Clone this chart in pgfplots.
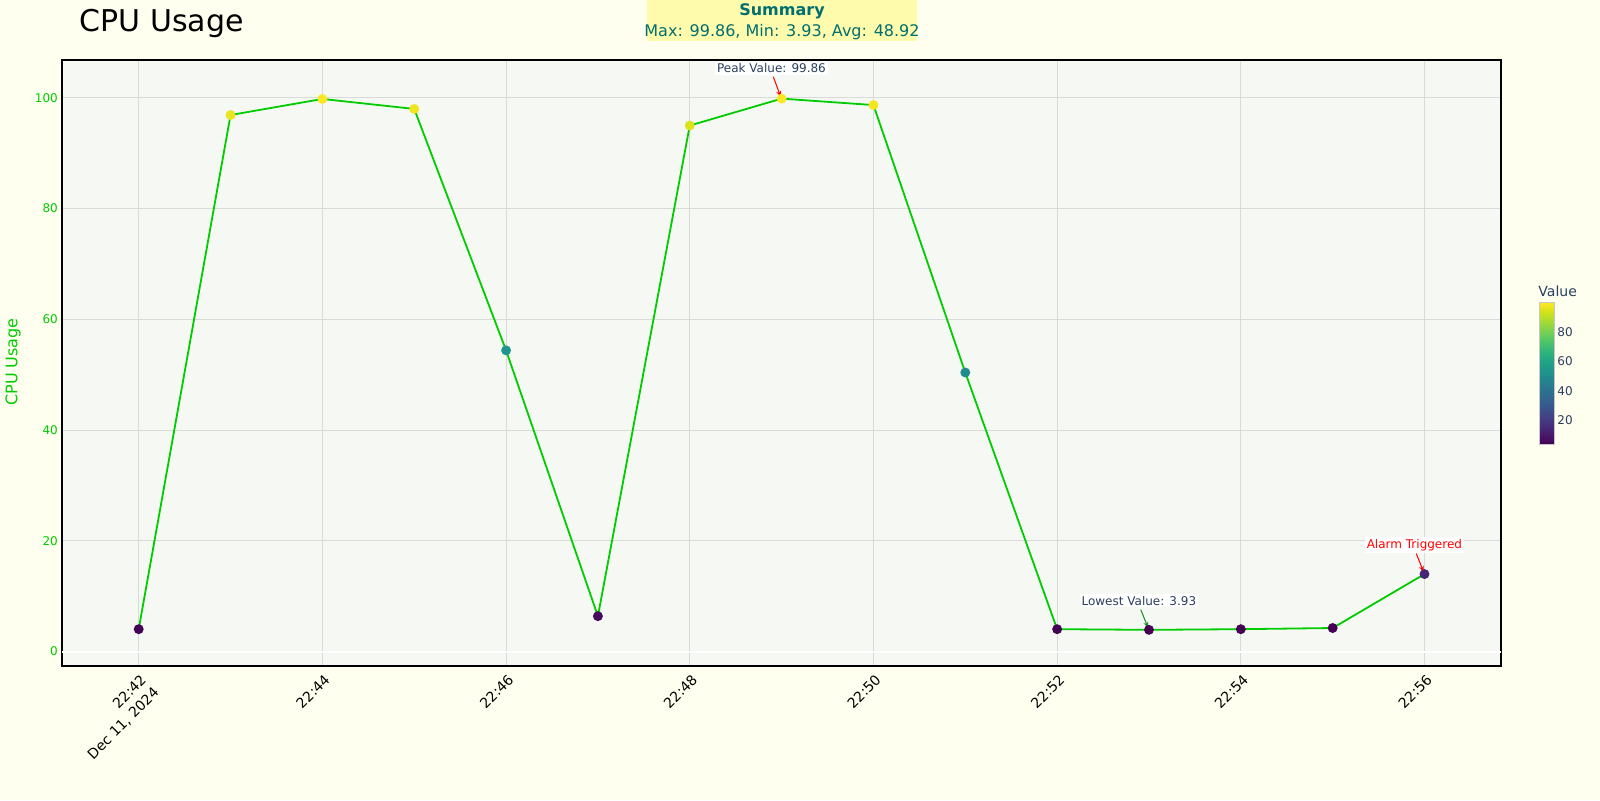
\documentclass[border=0pt]{standalone}
\usepackage{fontspec}
\setmainfont{DejaVu Sans}
\usepackage{pgfplots}
\pgfplotsset{compat=1.18}
\usetikzlibrary{arrows.meta}
\definecolor{paper}{HTML}{FFFFF0}
\definecolor{plotbg}{HTML}{F6F8F3}
\definecolor{gridgray}{HTML}{DADADA}
\definecolor{linegreen}{HTML}{00CC00}
\definecolor{labelblue}{HTML}{2A3F5F}
\definecolor{sumyellow}{HTML}{FFFBAD}
\definecolor{sumteal}{HTML}{006F6F}
\definecolor{lowgreen}{HTML}{1F8A1F}
\pgfplotstableread{
x y
0 4.05
1 96.9
2 99.8
3 98.0
4 54.4
5 6.4
6 95.0
7 99.86
8 98.7
9 50.4
10 4.05
11 3.93
12 4.05
13 4.26
14 14.0
}\cpudata
\begin{document}
\begin{tikzpicture}
\useasboundingbox (0,0) rectangle (800pt,400pt);
\fill[paper] (0,0) rectangle (800pt,400pt);
\begin{axis}[
  at={(31.1pt,67pt)}, anchor=south west,
  scale only axis, width=719.4pt, height=302.9pt,
  xmin=-0.833, xmax=14.833, ymin=-2.6, ymax=106.8,
  axis background/.style={fill=plotbg},
  axis line style={line width=1pt, black},
  major tick length=0pt,
  grid=major, major grid style={gridgray, line width=0.5pt},
  xtick={0,2,...,14},
  xticklabels={{22:42\\Dec 11, 2024},22:44,22:46,22:48,22:50,22:52,22:54,22:56},
  xticklabel style={xshift=0.5pt, yshift=-3.5pt, rotate=45, anchor=north east, align=right, inner sep=0pt, font=\fontsize{7}{9}\selectfont, text=black},
  ytick={0,20,...,100},
  yticklabel style={inner sep=0pt, xshift=-2pt, font=\fontsize{6}{7}\selectfont, text=linegreen},
  /pgf/number format/assume math mode=true,
  point meta min=3.93, point meta max=99.86,
  colormap name=viridis,
  colorbar,
  colorbar style={
    anchor=north west, at={(parent axis.south east)}, xshift=10.5pt, yshift=181.7pt,
    scale only axis, width=7.5pt, height=70.7pt,
    ytick={20,40,60,80}, major tick length=0pt,
    yticklabel style={inner sep=0pt, xshift=1.5pt, font=\fontsize{6}{7}\selectfont, text=labelblue},
    /pgf/number format/assume math mode=true,
    axis line style={draw=gray!45, line width=0.5pt},
    title={Value}, title style={at={(0,1)}, anchor=south west, font=\fontsize{7}{8}\selectfont, text=labelblue, inner sep=0pt, yshift=-3pt, xshift=-0.5pt},
  },
  clip=false,
]
\addplot[draw=white, line width=1pt, forget plot] coordinates {(-0.833,0) (14.833,0)};
\addplot[draw=linegreen, line width=0.9pt, mark=*, mark size=2pt,
  scatter, point meta=y,
  scatter/use mapped color={draw=mapped color, fill=mapped color}]
  table[x=x, y=y] {\cpudata};
\node[font=\fontsize{6}{7}\selectfont, text=labelblue, fill=white, inner sep=1pt] at (axis cs:6.89,105.3) {Peak Value: 99.86};
\draw[red, -{Stealth[length=3pt,width=2.5pt]}, line width=0.5pt] (axis cs:6.91,103.8) -- (axis cs:6.99,100.2);
\node[font=\fontsize{6}{7}\selectfont, text=labelblue, fill=white, inner sep=1pt] at (axis cs:10.89,9.2) {Lowest Value: 3.93};
\draw[lowgreen, -{Stealth[length=3pt,width=2.5pt]}, line width=0.5pt] (axis cs:10.91,7.6) -- (axis cs:10.99,4.3);
\node[font=\fontsize{6}{7}\selectfont, text=red, fill=white, inner sep=1pt] at (axis cs:13.89,19.3) {Alarm Triggered};
\draw[red, -{Stealth[length=3pt,width=2.5pt]}, line width=0.5pt] (axis cs:13.91,17.7) -- (axis cs:13.99,14.4);
\end{axis}
\node[anchor=base west, font=\fontsize{15}{18}\selectfont, inner sep=0pt] at (39.6pt,384.2pt) {CPU Usage};
\fill[sumyellow] (323.5pt,400pt) rectangle (458.5pt,379.5pt);
\node[font=\fontsize{8}{9}\selectfont\bfseries, text=sumteal, inner sep=0pt] at (391pt,394.6pt) {Summary};
\node[font=\fontsize{8}{9}\selectfont, text=sumteal, inner sep=0pt] at (391pt,384.0pt) {Max: 99.86, Min: 3.93, Avg: 48.92};
\node[rotate=90, font=\fontsize{8}{9}\selectfont, text=linegreen, inner sep=0pt] at (6.5pt,219pt) {CPU Usage};
\end{tikzpicture}
\end{document}
